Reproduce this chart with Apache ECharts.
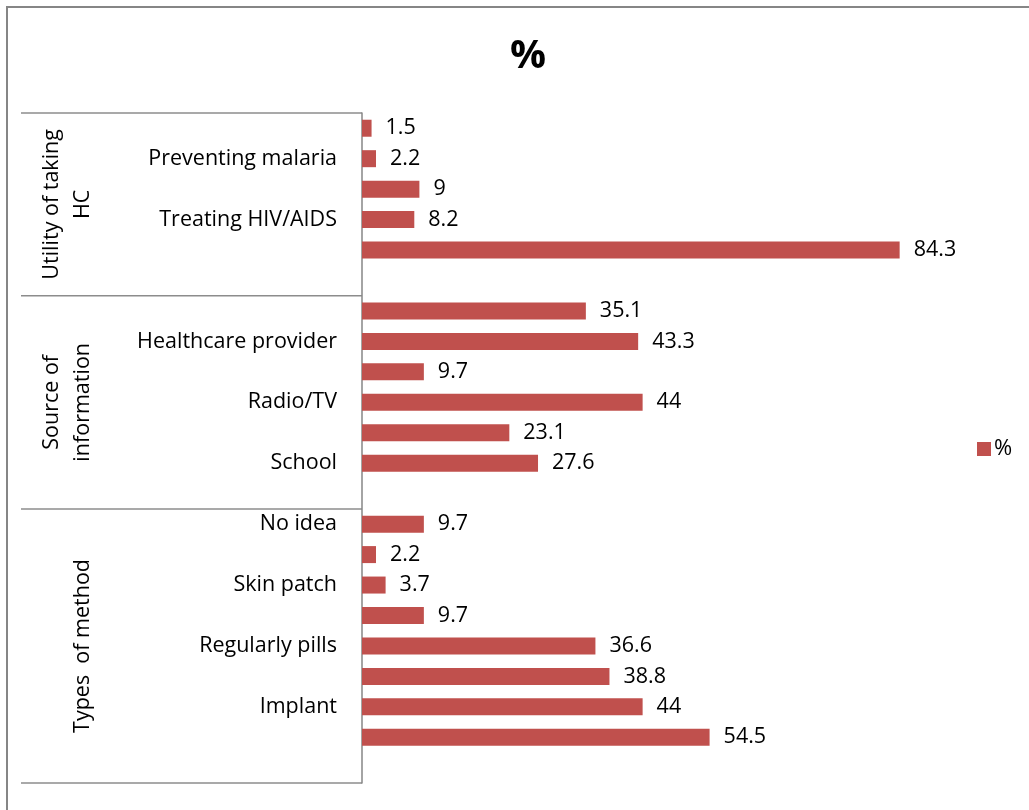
<!DOCTYPE html>
<html>
<head>
<meta charset="utf-8">
<script src="https://cdn.jsdelivr.net/npm/echarts@6/dist/echarts.min.js"></script>
<style>
  html, body { margin: 0; padding: 0; background: #ffffff; }
  #chart { width: 1029px; height: 810px; }
</style>
</head>
<body>
<div id="chart"></div>
<script>
// Group headings (drawn rotated in the left column)
const groupNames = ['Utility of taking\nHC', 'Source of\ninformation', 'Types  of method'];

// Category labels per group; blank entries are rows whose label is skipped
const utilityLabels = ['', 'Preventing malaria', '', 'Treating HIV/AIDS', '', ''];
const utilityValues = [1.5, 2.2, 9, 8.2, 84.3, null];

const sourceLabels = ['', 'Healthcare provider', '', 'Radio/TV', '', 'School', ''];
const sourceValues = [35.1, 43.3, 9.7, 44, 23.1, 27.6, null];

const methodLabels = ['No idea', '', 'Skin patch', '', 'Regularly pills', '', 'Implant', '', ''];
const methodValues = [9.7, 2.2, 3.7, 9.7, 36.6, 38.8, 44, 54.5, null];

const seriesName = '%';

const groupLabelSets = [utilityLabels, sourceLabels, methodLabels];
const categories = [].concat(utilityLabels, sourceLabels, methodLabels);
const values = [].concat(utilityValues, sourceValues, methodValues);

const FONT = 'Open Sans';
const FS = 21.5;
const GRID_LEFT = 362, GRID_TOP = 113, GRID_H = 670;

const chart = echarts.init(document.getElementById('chart'), null, { renderer: 'canvas' });

chart.setOption({
  animation: false,
  backgroundColor: '#ffffff',
  title: {
    text: '%',
    left: 523,
    top: 32,
    textAlign: 'center',
    textStyle: { fontFamily: FONT, fontSize: 40, fontWeight: 'bold', color: '#000000' }
  },
  legend: {
    data: [seriesName],
    left: 972,
    top: 433,
    itemWidth: 14,
    itemHeight: 14,
    itemGap: 6,
    icon: 'rect',
    textStyle: { fontFamily: FONT, fontSize: 22, lineHeight: 22, color: '#000000', padding: [0, 0, 0, -2] }
  },
  grid: { left: GRID_LEFT, top: GRID_TOP, width: 574, height: GRID_H, containLabel: false },
  xAxis: {
    type: 'value',
    min: 0,
    max: 90,
    show: false
  },
  yAxis: {
    type: 'category',
    inverse: true,
    data: categories,
    axisLine: { show: true, lineStyle: { color: '#868686', width: 1.5 } },
    axisTick: { show: false },
    axisLabel: {
      interval: 0,
      margin: 25,
      fontFamily: FONT,
      fontSize: FS,
      color: '#000000'
    },
    splitLine: { show: false }
  },
  series: [{
    name: seriesName,
    type: 'bar',
    data: values,
    barWidth: 17,
    itemStyle: { color: '#C0504D' },
    label: {
      show: true,
      position: 'right',
      distance: 14,
      fontFamily: FONT,
      fontSize: FS,
      color: '#000000',
      formatter: p => (p.value == null ? '' : String(p.value))
    }
  }]
});

// Group boxes: separator lines and rotated group headings, placed on the category scale
function drawGroups() {
  const c0 = chart.convertToPixel({ yAxisIndex: 0 }, 0);
  const c1 = chart.convertToPixel({ yAxisIndex: 0 }, 1);
  const step = c1 - c0;
  const edge = i => chart.convertToPixel({ yAxisIndex: 0 }, i) - step / 2;

  const elements = [{
    type: 'rect',
    shape: { x: 7, y: 7, width: 1200, height: 1000 },
    style: { fill: 'none', stroke: '#868686', lineWidth: 2 },
    silent: true
  }];

  let start = 0;
  const boundaries = [edge(0)];
  groupLabelSets.forEach((set, g) => {
    const end = start + set.length;
    const top = edge(start);
    const bottom = edge(end);
    boundaries.push(bottom);
    elements.push({
      type: 'text',
      x: 98,
      y: (top + bottom) / 2,
      rotation: Math.PI / 2,
      style: {
        text: groupNames[g],
        fontFamily: FONT,
        fontSize: FS,
        lineHeight: 31,
        fill: '#000000',
        align: 'center',
        verticalAlign: 'bottom'
      },
      silent: true
    });
    start = end;
  });

  boundaries.forEach(y => {
    elements.push({
      type: 'line',
      shape: { x1: 21, y1: y, x2: GRID_LEFT, y2: y },
      style: { stroke: '#8c8c8c', lineWidth: 1.5 },
      silent: true
    });
  });

  chart.setOption({ graphic: { elements: elements } });
}

drawGroups();
</script>
</body>
</html>
